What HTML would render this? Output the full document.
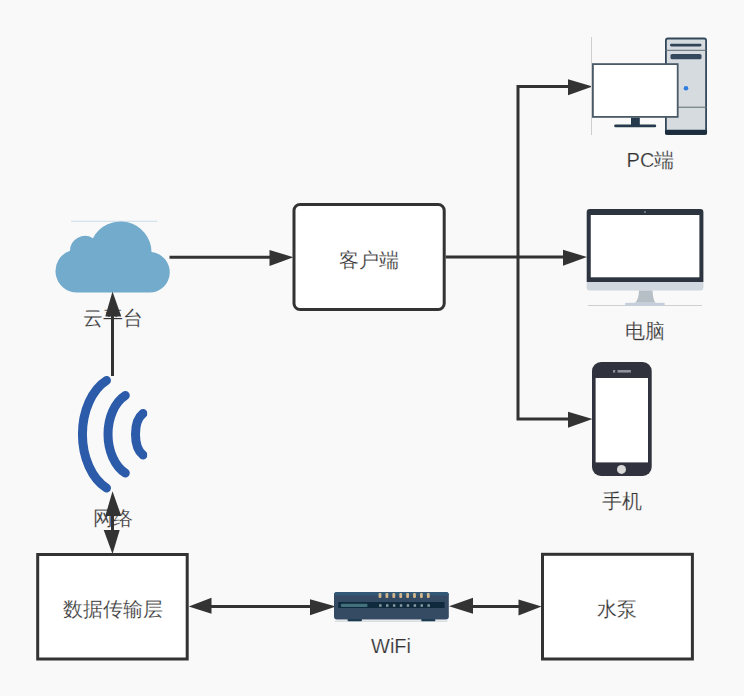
<!DOCTYPE html>
<html><head><meta charset="utf-8">
<style>
html,body{margin:0;padding:0;background:#f9f9f9;}
body{width:744px;height:696px;position:relative;overflow:hidden;font-family:"Liberation Sans",sans-serif;}
svg{position:absolute;left:0;top:0;}
.t{position:absolute;font-size:20px;line-height:20px;color:#333;white-space:nowrap;transform:translateX(-50%);-webkit-text-stroke:0.2px #f9f9f9;}
.w{-webkit-text-stroke:0.2px #fff;}
</style></head><body>
<svg width="744" height="696" viewBox="0 0 744 696">
<defs>
<clipPath id="sigclip"><rect x="77.8" y="360" width="69.5" height="140"/></clipPath>
</defs>
<!-- cloud -->
<path fill="#73abcd" d="M77 292.5A21.5 21.5 0 0 1 70 250.67A15 15 0 0 1 92.95 238.28A31 31 0 0 1 151.5 252.1A20.3 20.3 0 0 1 149.5 292.6Z"/>
<rect x="71" y="220.8" width="86" height="1" fill="#73abcd" opacity="0.35"/>

<!-- lines -->
<g stroke="#333" stroke-width="3" fill="none">
<path d="M169.5 257.2H271"/>
<path d="M445.7 257H564"/>
<path d="M569 86.4H518V419H569"/>
<path d="M210.7 606.6H311"/>
<path d="M472 606.6H519.5"/>
</g>
<g fill="#333">
<path d="M293.5 257.2L269.5 250L269.5 266Z"/>
<path d="M587 257L563 249.8L563 265.8Z"/>
<path d="M592.5 86.4L568 79.2L568 95.2Z"/>
<path d="M592.5 419L568 411.8L568 427.8Z"/>
<path d="M188.7 606.5L211.5 597.7L211.5 613.7Z"/>
<path d="M335.9 606.4L310 599.3L310 615.3Z"/>
<path d="M449 606.2L473 597.8L473 613.8Z"/>
<path d="M541.6 606.5L518.5 599.4L518.5 615.4Z"/>
</g>

<!-- boxes -->
<rect x="294" y="204.5" width="150.2" height="105" rx="6" fill="#fff" stroke="#333" stroke-width="3"/>
<rect x="37.7" y="554.5" width="149.5" height="104.5" fill="#fff" stroke="#333" stroke-width="3"/>
<rect x="542.5" y="554.3" width="149.9" height="104.7" fill="#fff" stroke="#333" stroke-width="3"/>

<!-- signal -->
<g clip-path="url(#sigclip)" stroke="#2b5ba9" stroke-width="9" fill="none" stroke-linecap="round">
<path d="M106.5 380.5A40 58.6 0 0 0 106.5 488"/>
<path d="M125.3 395.5A29 42.36 0 0 0 125.3 473"/>
<path d="M143 413.5A12.5 22.64 0 0 0 143 455"/>
</g>

<!-- router -->
<g>
<rect x="334" y="592" width="114.8" height="27.6" rx="3" fill="#354a63"/>
<path d="M337 592H445.8A3 3 0 0 1 448.8 595V595.5H334V595A3 3 0 0 1 337 592Z" fill="#325878"/>
<rect x="338.3" y="602" width="106.3" height="6" fill="#0e2a3c"/>
<rect x="340.8" y="603.7" width="26.7" height="3.3" rx="1" fill="#42717b"/>
<g fill="#d3b68c">
<rect x="378.6" y="593" width="2.8" height="5" rx="1"/>
<rect x="385.5" y="593" width="2.8" height="5" rx="1"/>
<rect x="392.4" y="593" width="2.8" height="5" rx="1"/>
<rect x="399.3" y="593" width="2.8" height="5" rx="1"/>
<rect x="406.2" y="593" width="2.8" height="5" rx="1"/>
<rect x="413.1" y="593" width="2.8" height="5" rx="1"/>
<rect x="420" y="593" width="2.8" height="5" rx="1"/>
<rect x="426.9" y="593" width="2.8" height="5" rx="1"/>
</g>
<g fill="#8a9da5">
<rect x="379.1" y="604.2" width="2.5" height="2.5" rx="0.5"/>
<rect x="386.0" y="604.2" width="2.5" height="2.5" rx="0.5"/>
<rect x="392.9" y="604.2" width="2.5" height="2.5" rx="0.5"/>
<rect x="399.8" y="604.2" width="2.5" height="2.5" rx="0.5"/>
<rect x="406.7" y="604.2" width="2.5" height="2.5" rx="0.5"/>
<rect x="413.6" y="604.2" width="2.5" height="2.5" rx="0.5"/>
<rect x="420.5" y="604.2" width="2.5" height="2.5" rx="0.5"/>
<rect x="427.4" y="604.2" width="2.5" height="2.5" rx="0.5"/>
</g>
<rect x="335" y="620.6" width="112.5" height="1" fill="#c5ccd3"/>
<rect x="347.5" y="619" width="14.5" height="2.3" rx="1" fill="#1e3d52"/>
<rect x="421.2" y="619" width="14.2" height="2.3" rx="1" fill="#1e3d52"/>
</g>

<!-- PC -->
<rect x="591" y="37" width="1" height="98" fill="#cfcfcf"/>
<rect x="665.9" y="38.5" width="40.2" height="95.5" rx="2" fill="#d6dbe0" stroke="#34485b" stroke-width="1.8"/>
<rect x="665" y="129.8" width="42" height="4.9" rx="1.5" fill="#1c2e3e"/>
<rect x="670" y="43.8" width="31.5" height="2.6" rx="1.3" fill="#2f4457"/>
<rect x="665" y="49.8" width="42" height="1" fill="#5d6b70"/>
<rect x="670.5" y="54.1" width="31" height="5.2" rx="1.5" fill="#34495e"/>
<rect x="665" y="106.7" width="42" height="1" fill="#5d6b70"/>
<circle cx="686" cy="88.3" r="2.3" fill="#2f7de1"/>
<rect x="592.9" y="64.1" width="84.8" height="52.8" fill="#fff" stroke="#4a5a66" stroke-width="1.8"/>
<rect x="631" y="117.8" width="8.8" height="7.2" fill="#253a4c"/>
<rect x="614.2" y="124.6" width="42" height="2.7" rx="1.3" fill="#253a4c"/>

<!-- iMac -->
<path d="M589.7 209H700.4A3 3 0 0 1 703.4 212V282H586.7V212A3 3 0 0 1 589.7 209Z" fill="#2c3440"/>
<rect x="590.75" y="215" width="108.65" height="62.3" fill="#fff"/>
<circle cx="645" cy="212" r="0.9" fill="#8a9099"/>
<path d="M586.7 282H703.4V287.6A3 3 0 0 1 700.4 290.6H589.7A3 3 0 0 1 586.7 287.6Z" fill="#d0d7df"/>
<path d="M639 290.6H652.6Q652.6 299 655.5 302.8H635Q639 299 639 290.6Z" fill="#b6bec6"/>
<rect x="588" y="305" width="114" height="1" fill="#cfcfcf"/>
<rect x="625.2" y="302.8" width="39.4" height="2.9" fill="#c5cfdb"/>

<!-- phone -->
<rect x="592" y="362" width="59.7" height="114" rx="9" fill="#30333d"/>
<rect x="595.6" y="378" width="52.4" height="84.4" fill="#fff"/>
<rect x="613" y="370" width="2.2" height="2.6" fill="#8d9199"/>
<rect x="617.5" y="370" width="13.4" height="2.6" fill="#8d9199"/>
<circle cx="621.5" cy="469.4" r="4.5" fill="#d9d9d9"/>
</svg>

<div class="t w" style="left:369.25px;top:250px">客户端</div>
<div class="t" style="left:113px;top:307.5px">云平台</div>
<div class="t" style="left:112.5px;top:508px">网络</div>
<div class="t w" style="left:112.5px;top:599px">数据传输层</div>
<div class="t w" style="left:617.4px;top:599px">水泵</div>
<div class="t" style="left:391px;top:636px">WiFi</div>
<div class="t" style="left:650.5px;top:150px">PC端</div>
<div class="t" style="left:645.3px;top:321px">电脑</div>
<div class="t" style="left:622.2px;top:491px">手机</div>
<svg width="744" height="696" viewBox="0 0 744 696">
<path d="M112.5 376V315M112.5 515V531" stroke="#333" stroke-width="3" fill="none"/>
<g fill="#333">
<path d="M112.5 291.5L105.3 316.5L121.3 316.5Z"/>
<path d="M112.5 491.3L105.3 516L121.3 516Z"/>
<path d="M112.5 554L103.7 530L119.7 530Z"/>
</g>
</svg>
</body></html>
